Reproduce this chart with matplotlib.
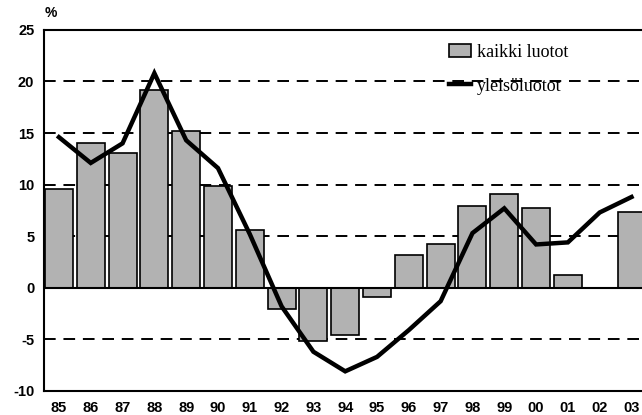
import matplotlib.pyplot as plt
import numpy as np

# luottokannan kasvu, %
years = ['85', '86', '87', '88', '89', '90', '91', '92', '93', '94',
         '95', '96', '97', '98', '99', '00', '01', '02', '03']
kaikki_luotot = [9.6, 14.0, 13.1, 19.2, 15.2, 9.9, 5.6, -2.1, -5.2, -4.6,
                 -0.9, 3.2, 4.2, 7.9, 9.1, 7.7, 1.2, 0.0, 7.3]
yleisoluotot = [14.6, 12.1, 14.0, 20.8, 14.3, 11.6, 5.2, -1.8, -6.2, -8.1,
                -6.7, -4.1, -1.3, 5.3, 7.7, 4.2, 4.4, 7.3, 8.8]
yticks = [-10, -5, 0, 5, 10, 15, 20, 25]

x = np.arange(len(years))

fig = plt.figure(figsize=(6.42, 4.15), dpi=100)
ax = fig.add_axes([0.0685, 0.058, 0.9315, 0.870])

bars = ax.bar(x, kaikki_luotot, width=0.88, color='#b2b2b2', edgecolor='black',
              linewidth=1.2, label='kaikki luotot', zorder=2)
line, = ax.plot(x, yleisoluotot, color='black', linewidth=3.2,
                label='yleisöluotot', zorder=3, solid_joinstyle='miter')
ax.axhline(0, color='black', linewidth=1.5, zorder=2.5)

for v in [-5, 5, 10, 15, 20]:
    ax.axhline(v, color='black', linewidth=1.4, linestyle=(0, (6, 4)), zorder=1)

ax.set_xlim(-0.47, 18.33)
ax.set_ylim(-10, 25)
ax.set_yticks(yticks)
ax.set_yticklabels([str(t) for t in yticks], fontfamily='Liberation Sans',
                   fontweight='bold', fontsize=10.5)
ax.set_xticks(x)
ax.set_xticklabels(years, fontfamily='Liberation Sans', fontweight='bold',
                   fontsize=10.5)
ax.tick_params(length=0, pad=7)
ax.spines['right'].set_visible(False)
for s in ['left', 'top', 'bottom']:
    ax.spines[s].set_linewidth(1.5)

ax.text(-0.25, 26.0, '%', fontfamily='Liberation Sans', fontweight='bold',
        fontsize=10, ha='center', va='bottom')

ax.legend([bars, line], ['kaikki luotot', 'yleisöluotot'],
          loc='upper left', bbox_to_anchor=(0.665, 0.982), frameon=False,
          prop={'family': 'Liberation Serif', 'size': 13},
          handlelength=1.2, handletextpad=0.35, labelspacing=0.95,
          borderaxespad=0)

fig.savefig('out.png', dpi=100)
